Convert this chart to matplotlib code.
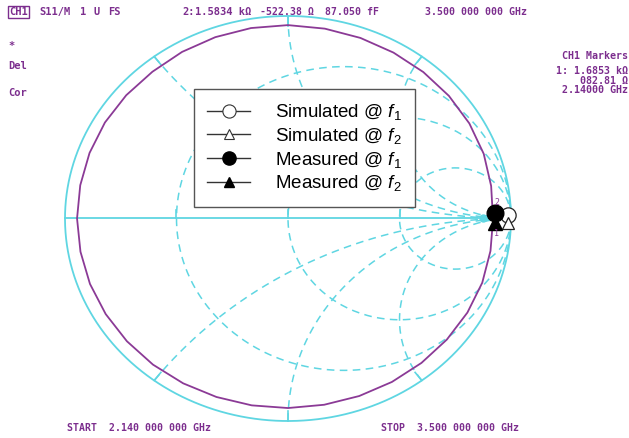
"""
S11 Smith chart: measured trace 2.14-3.5 GHz with simulated/measured points at f1, f2.
"""

import numpy as np
import matplotlib.pyplot as plt
import matplotlib as mpl
from matplotlib.lines import Line2D

mpl.rcParams.update({
    "mathtext.fontset": "custom",
    "mathtext.rm": "Liberation Sans",
    "mathtext.it": "Liberation Sans:italic",
})

# Measured S11 trace, read as polar reflection coefficient (angle in deg, |Γ|)
TRACE_ANGLE = [3, 10, 20, 30, 40, 50, 60, 70, 80, 90, 100, 110, 120, 130,
               140, 150, 160, 170, 180, 190, 200, 210, 220, 230, 240, 250,
               260, 270, 280, 290, 300, 310, 320, 330, 340, 350, 358]
TRACE_MAG = [0.918, 0.925, 0.934, 0.939, 0.942, 0.944, 0.946, 0.949, 0.952,
             0.955, 0.955, 0.953, 0.950, 0.946, 0.947, 0.948, 0.947, 0.946,
             0.946, 0.945, 0.945, 0.944, 0.943, 0.942, 0.940, 0.938, 0.937,
             0.936, 0.934, 0.933, 0.932, 0.931, 0.930, 0.929, 0.927, 0.922,
             0.918]

# Points at f1 / f2 (Re Γ, Im Γ)
SIM_F1 = (0.988, 0.015)
SIM_F2 = (0.988, -0.022)
MEAS_F1 = (0.930, 0.028)
MEAS_F2 = (0.928, -0.022)

# Smith grid values (normalised)
R_CIRCLES = [1 / 3, 1, 3]
X_ARCS = [0.5, 1, 2]

LEGEND_LABELS = [r"Simulated @ $f_1$", r"Simulated @ $f_2$",
                 r"Measured @ $f_1$", r"Measured @ $f_2$"]

GRID = "#5fd6e2"
TRACE = "#8b3a96"
TXT = "#7c2e8e"

W, H = 629, 438
CX, CY = 288, 218.5      # chart centre, pixels
RX, RY = 223, 202.5      # unit circle radii, pixels


def gamma(z):
    return (z - 1) / (z + 1)


def px(x, y):
    """pixel position -> figure fraction"""
    return x / W, 1 - y / H


def plot():
    fig = plt.figure(figsize=(W / 100, H / 100), dpi=100)
    ax = fig.add_axes([0, 0, 1, 1])
    ax.set_xlim(-CX / RX, (W - CX) / RX)
    ax.set_ylim(-(H - CY) / RY, CY / RY)
    ax.axis("off")

    dash = dict(color=GRID, lw=1.1, linestyle=(0, (5, 3.5)))

    # outer circle and real axis
    t = np.linspace(0, 2 * np.pi, 600)
    ax.plot(np.cos(t), np.sin(t), color=GRID, lw=1.3)
    ax.plot([-1, 1], [0, 0], color=GRID, lw=1.3)

    # constant resistance circles
    xs = np.concatenate([-np.logspace(3, -3, 400), np.logspace(-3, 3, 400)])
    for r in R_CIRCLES:
        g = gamma(r + 1j * xs)
        ax.plot(g.real, g.imag, **dash)
        ax.plot([gamma(r).real] * 2, [0, 0.04], color=GRID, lw=1.2)

    # constant reactance arcs, with short solid ticks at the rim
    rs = np.logspace(-3, 3, 600)
    for x in X_ARCS:
        for s in (1, -1):
            g = gamma(rs + 1j * s * x)
            ax.plot(g.real, g.imag, **dash)
            e = gamma(1j * s * x)
            ax.plot([e.real, 0.95 * e.real], [e.imag, 0.95 * e.imag],
                    color=GRID, lw=1.2)

    # measured trace
    a = np.deg2rad(TRACE_ANGLE)
    m = np.array(TRACE_MAG)
    ax.plot(m * np.cos(a), m * np.sin(a), color=TRACE, lw=1.3)
    ax.plot(0.874, 0, "o", color=GRID, ms=5)

    # marker labels of the analyzer
    ax.text(0.935, 0.078, "2", color=TRACE, fontsize=6, ha="center",
            va="center", family="DejaVu Sans Mono")
    ax.text(0.937, -0.075, "1", color=TRACE, fontsize=6, ha="center",
            va="center", family="DejaVu Sans Mono")

    # f1/f2 points
    ax.plot(*SIM_F1, "o", ms=11, mfc="white", mec="#222222", mew=0.9)
    ax.plot(*SIM_F2, "^", ms=9, mfc="white", mec="#222222", mew=0.9)
    ax.plot(*MEAS_F1, "o", ms=12, color="black")
    ax.plot(*MEAS_F2, "^", ms=9.5, color="black")

    # legend
    lk = dict(color="#333333", lw=1.0)
    handles = [
        Line2D([], [], marker="o", ms=9.5, mfc="white", mec="#333333", mew=0.8, **lk),
        Line2D([], [], marker="^", ms=7.5, mfc="white", mec="#333333", mew=0.8, **lk),
        Line2D([], [], marker="o", ms=9.5, mfc="black", mec="black", **lk),
        Line2D([], [], marker="^", ms=7.5, mfc="black", mec="black", **lk),
    ]
    leg = ax.legend(handles, LEGEND_LABELS, loc="upper left",
                    bbox_to_anchor=px(194, 89), bbox_transform=fig.transFigure,
                    borderaxespad=0, fancybox=False, edgecolor="#555555",
                    framealpha=1, handlelength=2.3, handletextpad=1.3,
                    labelspacing=0.2, borderpad=0.7,
                    prop={"family": "Liberation Sans", "size": 13.5})
    leg.get_frame().set_linewidth(1.0)

    # analyzer annotations
    mono = dict(family="DejaVu Sans Mono", fontweight="bold", fontsize=7.5,
                color=TXT, va="center", ha="left")
    small = {**mono, "fontsize": 7.1}
    right = {**mono, "ha": "right", "fontsize": 7.2}
    fig.text(*px(9, 12), "CH1", bbox=dict(boxstyle="square,pad=0.12",
             fc="white", ec=TXT, lw=1.0), **mono)
    fig.text(*px(39, 12), "S11/M", **mono)
    fig.text(*px(80, 12), "1", **mono)
    fig.text(*px(94, 12), "U", **mono)
    fig.text(*px(108, 12), "FS", **mono)
    fig.text(*px(182, 12), "2:", **mono)
    fig.text(*px(195, 12), "1.5834 kΩ", **mono)
    fig.text(*px(260, 12), "-522.38 Ω", **small)
    fig.text(*px(325, 12), "87.050 fF", **small)
    fig.text(*px(425, 12), "3.500 000 000 GHz", **small)
    fig.text(*px(8, 46), "*", **mono)
    fig.text(*px(8, 66), "Del", **mono)
    fig.text(*px(8, 93), "Cor", **mono)
    fig.text(*px(628, 56), "CH1 Markers", **right)
    fig.text(*px(628, 71), "1: 1.6853 kΩ", **right)
    fig.text(*px(628, 80.5), "082.81 Ω", **right)
    fig.text(*px(628, 90), "2.14000 GHz", **right)
    fig.text(*px(67, 428), "START  2.140 000 000 GHz", **small)
    fig.text(*px(381, 428), "STOP  3.500 000 000 GHz", **small)

    fig.savefig("out.png", dpi=100)


if __name__ == "__main__":
    plot()
